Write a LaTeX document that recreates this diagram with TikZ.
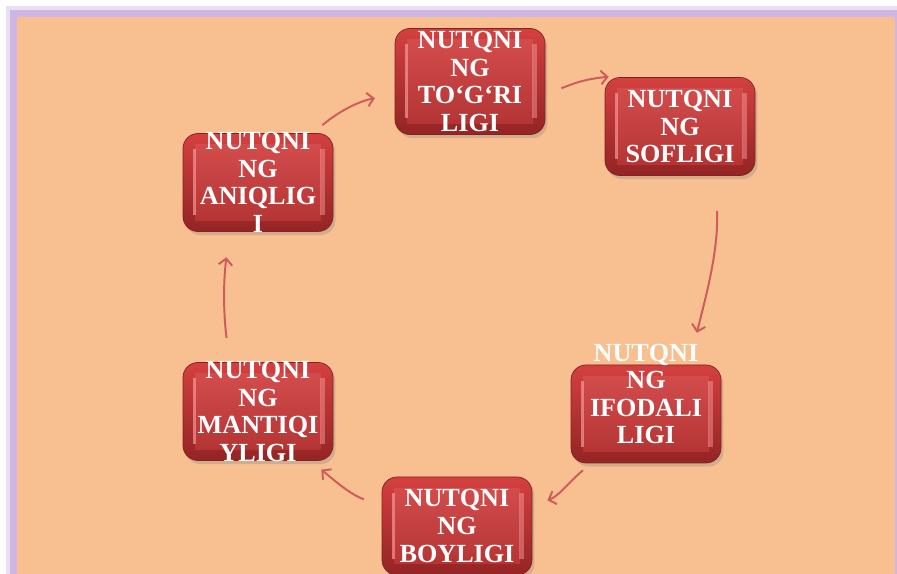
\documentclass[tikz,border=0pt]{standalone}
\usepackage{fontspec}
\setmainfont{Liberation Serif}
\usetikzlibrary{arrows.meta, shadows}
\definecolor{peach}{RGB}{248,192,145}
\definecolor{lilac}{RGB}{206,183,226}
\definecolor{boxtop}{RGB}{212,64,64}
\definecolor{boxbot}{RGB}{148,36,36}
\definecolor{boxmid}{RGB}{200,56,56}
\definecolor{boxlite}{RGB}{248,150,150}
\definecolor{boxedge}{RGB}{130,34,34}
\definecolor{cyclered}{RGB}{206,92,90}

\tikzset{
  bevelbox/.style={rounded corners=0.375cm, minimum width=3.75cm, minimum height=2.45cm,
    inner sep=0pt, draw=boxedge, line width=0.5pt, top color=boxtop, bottom color=boxbot,
    drop shadow={shadow xshift=0.6mm, shadow yshift=-0.9mm, opacity=0.3},
    path picture={
      \fill[sharp corners, top color=boxtop!92!white, bottom color=boxmid!88!black]
        ([xshift=0.3cm,yshift=-0.28cm]path picture bounding box.north west) rectangle
        ([xshift=-0.3cm,yshift=0.28cm]path picture bounding box.south east);
      \fill[sharp corners, boxlite, opacity=0.7]
        ([xshift=0.26cm,yshift=-0.4cm]path picture bounding box.north west) rectangle
        ([xshift=0.33cm,yshift=0.4cm]path picture bounding box.south west);
      \fill[sharp corners, boxlite, opacity=0.5]
        ([xshift=-0.33cm,yshift=-0.4cm]path picture bounding box.north east) rectangle
        ([xshift=-0.2cm,yshift=0.4cm]path picture bounding box.south east);
    }},
  boxtext/.style={text=white, align=center, font=\fontsize{18.6}{19.6}\selectfont\bfseries},
  cyclearrow/.style={cyclered, line width=1.4pt, -{Straight Barb[length=1.6mm,width=3.4mm]}},
}

\begin{document}
\begin{tikzpicture}
  \useasboundingbox (0,0) rectangle (22.425,14.35);
  % frame
  \fill[white] (0,0) rectangle (22.425,14.35);
  \fill[lilac!45] (0.15,0) rectangle (22.425,14.2);
  \fill[lilac] (0.25,0) rectangle (22.425,14.1);
  \fill[peach] (0.425,0) rectangle (22.375,13.925);

  % boxes
  \node[bevelbox, minimum height=2.65cm,
    label={[boxtext, name=togritxt]center:NUTQNI\\NG\\TO`G`RI\\LIGI}] (togri) at (11.75,12.3125) {};
  \node[bevelbox, label={[boxtext, name=softxt]center:NUTQNI\\NG\\SOFLIGI}] (sof) at (17.0,11.1875) {};
  \node[bevelbox, label={[boxtext, name=ifodatxt, yshift=0.5cm]center:NUTQNI\\NG\\IFODALI\\LIGI}] (ifoda) at (16.15,4.0) {};
  \node[bevelbox, label={[boxtext, name=boytxt]center:NUTQNI\\NG\\BOYLIGI}] (boy) at (11.425,1.2) {};
  \node[bevelbox, label={[boxtext, name=mantiqtxt]center:NUTQNI\\NG\\MANTIQI\\YLIGI}] (mantiq) at (6.45,4.0625) {};
  \node[bevelbox, label={[boxtext, name=aniqtxt]center:NUTQNI\\NG\\ANIQLIG\\I}] (aniq) at (6.45,9.7875) {};

  % cycle arrows
  \draw[cyclearrow, shorten <=0.31cm, shorten >=0.5cm] (aniq.42) to[out=40, in=190] (togri.190);
  \draw[cyclearrow, shorten <=0.42cm, shorten >=-0.1cm] (togri.-9) to[out=18, in=185] (sof.north west);
  \draw[cyclearrow, shorten <=0.88cm, shorten >=0.82cm] (sof.-54) to[out=-88, in=76] (ifoda.49);
  \draw[cyclearrow, shorten <=0.27cm, shorten >=0.4cm] (ifoda.-138) to[out=-140, in=20] (boy.15);
  \draw[cyclearrow, shorten <=0.47cm, shorten >=0.34cm] (boy.165) to[out=160, in=-40] (mantiq.-43);
  \draw[cyclearrow, shorten <=0.61cm, shorten >=0.64cm] (mantiq.120) to[out=97, in=-97] (aniq.-120);
\end{tikzpicture}
\end{document}
